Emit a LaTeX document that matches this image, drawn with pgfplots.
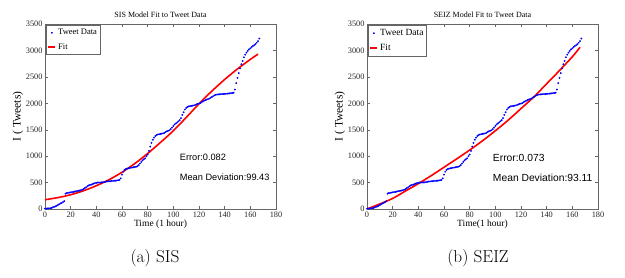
\documentclass[border=0pt]{standalone}
\usepackage{pgfplots}
\usepackage{pgfplotstable}
\pgfplotsset{compat=1.18}
\usepackage{fontspec}
\newfontfamily\tms{Liberation Serif}
\newfontfamily\arl{Liberation Sans}

\pgfplotstableread{
t I
0 5
1 8
2 10
3 12
4 15
5 20
6 30
7 40
8 50
9 60
10 75
11 90
12 105
13 115
14 130
15 150
16 290
17 300
18 305
19 310
20 315
21 320
22 325
23 330
24 335
25 340
26 345
27 350
28 355
29 365
30 375
31 395
32 410
33 430
34 445
35 455
36 460
37 470
38 480
39 490
40 495
41 500
42 500
43 500
44 505
45 505
46 510
47 515
48 520
49 520
50 525
51 525
52 530
53 530
54 535
55 535
56 540
57 545
58 550
59 580
60 650
61 705
62 740
63 755
64 765
65 770
66 775
67 780
68 785
69 790
70 795
71 800
72 810
73 830
74 860
75 890
76 920
77 940
78 960
79 1000
80 1030
81 1100
82 1180
83 1250
84 1310
85 1350
86 1380
87 1400
88 1410
89 1415
90 1420
91 1425
92 1430
93 1440
94 1455
95 1470
96 1480
97 1490
98 1510
99 1540
100 1570
101 1600
102 1620
103 1640
104 1660
105 1680
106 1720
107 1780
108 1830
109 1880
110 1910
111 1930
112 1940
113 1945
114 1950
115 1955
116 1960
117 1970
118 1980
119 1990
120 1995
121 2005
122 2020
123 2035
124 2050
125 2060
126 2070
127 2080
128 2090
129 2105
130 2120
131 2135
132 2150
133 2160
134 2165
135 2168
136 2170
137 2172
138 2174
139 2176
140 2178
141 2180
142 2182
143 2185
144 2188
145 2192
146 2195
147 2200
148 2260
149 2380
150 2480
151 2570
152 2660
153 2740
154 2800
155 2870
156 2920
157 2960
158 2990
159 3020
160 3040
161 3065
162 3085
163 3100
164 3120
165 3145
166 3175
167 3225
}\tweet

\pgfplotstableread{
t I
0 175
10 215
20 270
30 345
40 440
50 555
60 695
70 860
80 1050
90 1260
100 1480
110 1730
120 1990
130 2230
140 2450
150 2650
160 2830
166 2930
}\sisfit

\pgfplotstableread{
t I
0 0
10 95
20 200
30 340
40 480
50 630
60 790
70 950
80 1115
90 1290
100 1480
110 1680
120 1900
130 2120
140 2370
150 2620
160 2880
166 3060
}\seizfit

\pgfplotsset{
  mystyle/.style={
    scale only axis, width=231pt, height=185pt,
    xmin=0, xmax=180, ymin=0, ymax=3500,
    xtick={0,20,...,180}, ytick={0,500,...,3500},
    tick align=inside, major tick length=3pt,
    scaled ticks=false,
    /pgf/number format/assume math mode=true,
    /pgf/number format/set thousands separator={},
    ticklabel style={font=\tms\fontsize{8.3}{9}\selectfont, text=black!85},
    xticklabel style={yshift=1pt},
    yticklabel style={xshift=1pt},
    axis line style={black!60, line width=0.4pt},
    tick style={black!60, line width=0.4pt},
    title style={font=\tms\fontsize{8}{9}\selectfont, yshift=-3pt},
    xlabel style={font=\tms\fontsize{9.5}{10}\selectfont, yshift=4pt},
    ylabel style={font=\tms\fontsize{11.5}{12}\selectfont, yshift=-4pt},
    legend style={at={(0.006,0.994)}, anchor=north west, draw=black!60,
      line width=0.4pt, inner xsep=1pt, inner ysep=2pt, row sep=3pt,
      font=\tms\fontsize{8.5}{9}\selectfont},
    legend cell align=left,
    dataplot/.style={only marks, mark=*, mark size=0.7pt, blue,
      mark options={draw=blue, fill=blue},
      legend image code/.code={\draw[##1] plot coordinates {(3.5pt,0pt)};}},
    fitplot/.style={red, line width=1.6pt, smooth,
      legend image code/.code={\draw[##1, sharp plot] (0pt,0pt) -- (7pt,0pt);}},
  }
}

\begin{document}
\begin{tikzpicture}
\useasboundingbox (0pt,0pt) rectangle (625pt,278pt);

\begin{axis}[mystyle, at={(45pt,69pt)}, anchor=south west,
  title={SIS Model Fit to Tweet Data},
  xlabel={Time (1 hour)}, ylabel={I ( Tweets)}]
\addplot[dataplot] table[x=t,y=I] {\tweet};
\addlegendentry{Tweet Data}
\addplot[fitplot] table[x=t,y=I] {\sisfit};
\addlegendentry{Fit}
\node[anchor=west, font=\arl\fontsize{9.2}{10}\selectfont, inner sep=0pt] at (axis cs:105,983) {Error:0.082};
\node[anchor=west, font=\arl\fontsize{9.2}{10}\selectfont, inner sep=0pt] at (axis cs:105,605) {Mean Deviation:99.43};
\end{axis}

\begin{axis}[mystyle, at={(367pt,69pt)}, anchor=south west,
  title={SEIZ Model Fit to Tweet Data},
  legend style={font=\tms\fontsize{9.5}{10}\selectfont},
  xlabel={Time(1 hour)}, ylabel={I ( Tweets)}]
\addplot[dataplot] table[x=t,y=I] {\tweet};
\addlegendentry{Tweet Data}
\addplot[fitplot] table[x=t,y=I] {\seizfit};
\addlegendentry{Fit}
\node[anchor=west, font=\arl\fontsize{10.3}{11}\selectfont, inner sep=0pt] at (axis cs:98,964) {Error:0.073};
\node[anchor=west, font=\arl\fontsize{10.3}{11}\selectfont, inner sep=0pt] at (axis cs:98,586) {Mean Deviation:93.11};
\end{axis}

\node[font=\fontsize{17.3}{21}\selectfont] at (155pt,20pt) {(a) SIS};
\node[font=\fontsize{17.3}{21}\selectfont] at (478pt,20pt) {(b) SEIZ};
\end{tikzpicture}
\end{document}
